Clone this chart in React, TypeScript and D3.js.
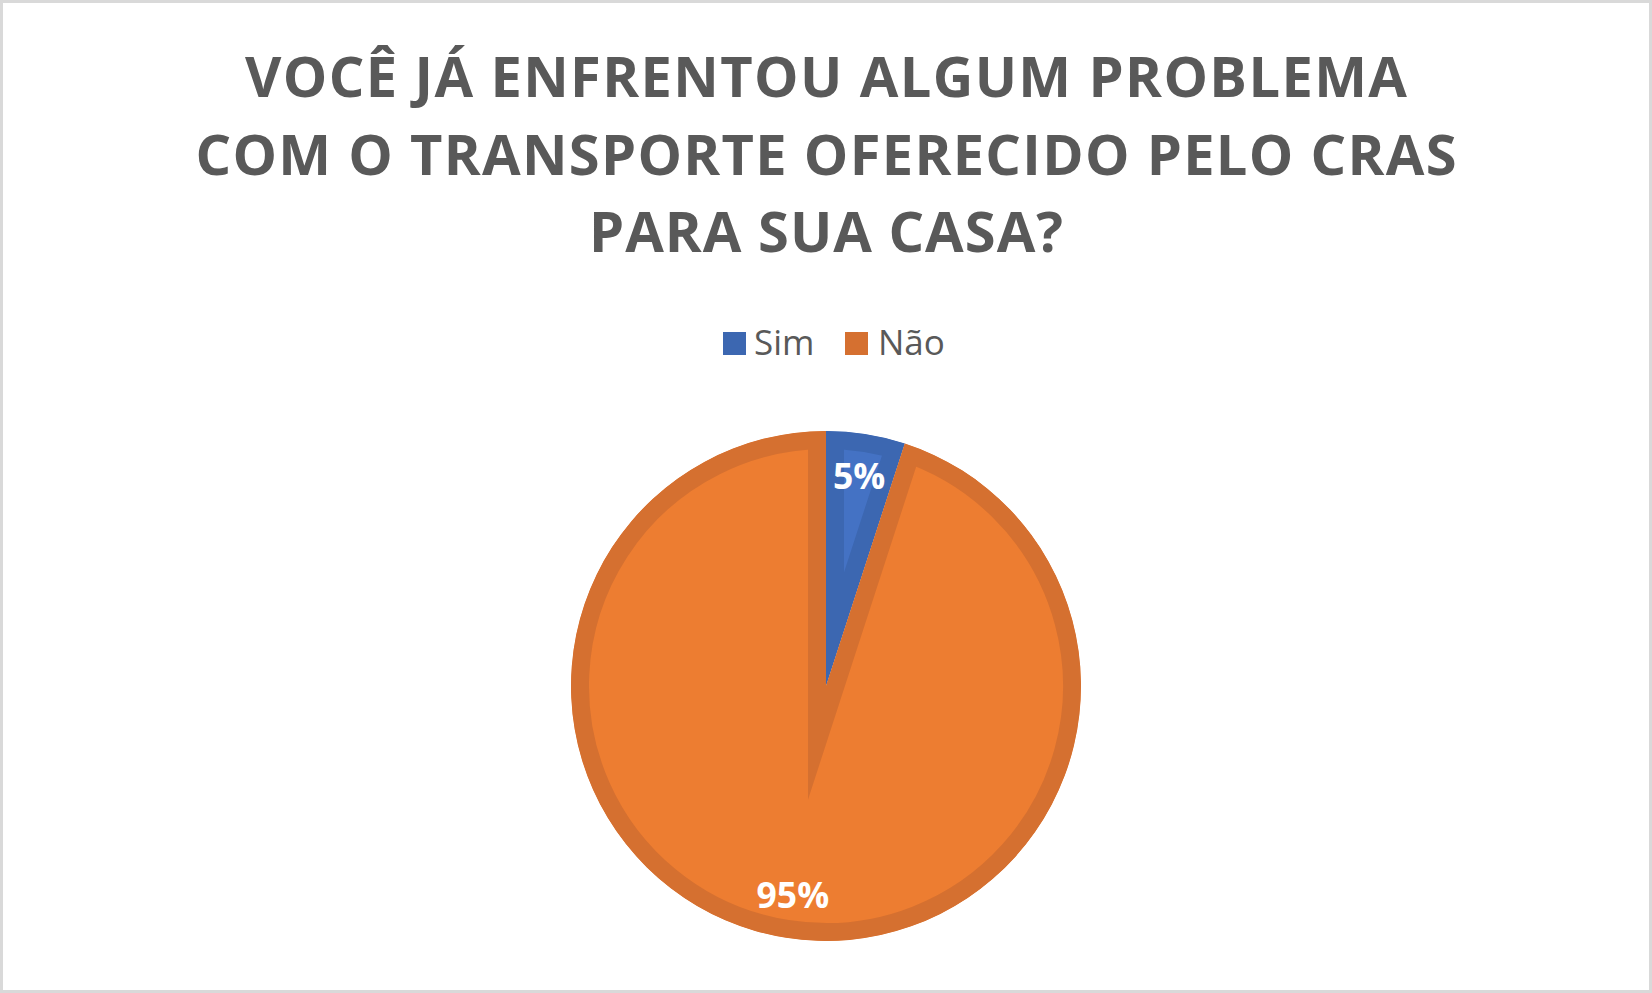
import React from "react";
import * as d3 from "d3";

const categories = ["Sim", "Não"];
const values = [5, 95];
const labels = ["5%", "95%"];
const titleLines = [
  "VOCÊ JÁ ENFRENTOU ALGUM PROBLEMA",
  "COM O TRANSPORTE OFERECIDO PELO CRAS",
  "PARA SUA CASA?",
];

const W = 1652;
const H = 993;
const cx = 826;
const cy = 686;
const R = 255;
const BEVEL = 18;
const lightColors = ["#4472C4", "#ED7D31"];
const darkColors = ["#3C67B1", "#D57030"];
const titleWidths = [1162, 1261, 474];
const titleBaselines = [97, 175, 252];

export default function App() {
  const pie = d3.pie<number>().sort(null).value((d) => d)(values);
  const arc = d3.arc<d3.PieArcDatum<number>>().innerRadius(0).outerRadius(R);
  const labelArc = d3.arc<d3.PieArcDatum<number>>().innerRadius(212).outerRadius(212);

  return (
    <svg
      width={W}
      height={H}
      style={{ position: "absolute", left: 0, top: 0, background: "#fff" }}
    >
      <rect x={1.5} y={1.5} width={W - 3} height={H - 3} fill="#fff" stroke="#D9D9D9" strokeWidth={3} />
      {titleLines.map((t, i) => (
        <text
          key={i}
          x={826}
          y={titleBaselines[i]}
          textAnchor="middle"
          fontFamily="'Open Sans', sans-serif"
          fontWeight={700}
          fontSize={56}
          fill="#595959"
          textLength={titleWidths[i]}
          lengthAdjust="spacing"
        >
          {t}
        </text>
      ))}
      <g fontFamily="'Open Sans', sans-serif" fontSize={35} fill="#595959">
        <rect x={723} y={332} width={23} height={23} fill={darkColors[0]} />
        <text x={754} y={355}>{categories[0]}</text>
        <rect x={845} y={332} width={23} height={23} fill={darkColors[1]} />
        <text x={878} y={355}>{categories[1]}</text>
      </g>
      <defs>
        {pie.map((d, i) => (
          <clipPath id={`clip${i}`} key={i}>
            <path d={arc(d) || ""} transform={`translate(${cx},${cy})`} />
          </clipPath>
        ))}
      </defs>
      {pie.map((d, i) => (
        <g key={i} clipPath={`url(#clip${i})`}>
          <path
            d={arc(d) || ""}
            transform={`translate(${cx},${cy})`}
            fill={lightColors[i]}
            stroke={darkColors[i]}
            strokeWidth={BEVEL * 2}
            strokeLinejoin="miter"
            strokeMiterlimit={12}
          />
        </g>
      ))}
      {pie.map((d, i) => {
        const [lx, ly] = labelArc.centroid(d);
        return (
          <text
            key={i}
            x={cx + lx}
            y={cy + ly}
            dy="0.36em"
            textAnchor="middle"
            fontFamily="'Open Sans', sans-serif"
            fontWeight={700}
            fontSize={35.5}
            fill="#fff"
          >
            {labels[i]}
          </text>
        );
      })}
    </svg>
  );
}
